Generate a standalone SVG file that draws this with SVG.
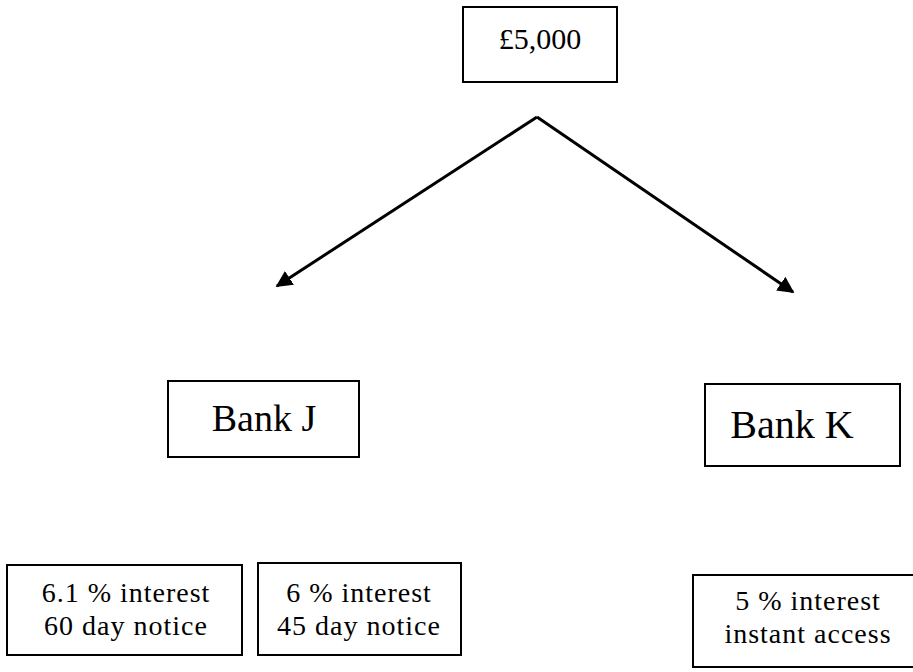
<svg xmlns="http://www.w3.org/2000/svg" width="913" height="672" viewBox="0 0 913 672">
  <style>
    .box { fill: #fff; stroke: #000; stroke-width: 2; }
    .label { font-family: "Liberation Serif", "Times New Roman", serif; fill: #000; text-anchor: middle; }
    .small { font-size: 28px; letter-spacing: 1px; }
    .edge { fill: none; stroke: #000; stroke-width: 3; stroke-linejoin: miter; }
  </style>
  <defs>
    <marker id="arrow" viewBox="0 0 10 10" refX="9" refY="5" markerWidth="5.5" markerHeight="5.5" orient="auto" markerUnits="strokeWidth">
      <path d="M0,0 L10,5 L0,10 z" fill="#000"/>
    </marker>
  </defs>

  <!-- connectors -->
  <g id="connectors">
    <line class="edge" x1="537" y1="117" x2="277" y2="286" marker-end="url(#arrow)"/>
    <line class="edge" x1="537" y1="117" x2="793" y2="292" marker-end="url(#arrow)"/>
  </g>

  <g id="root">
    <rect class="box" x="463" y="7" width="154" height="75"/>
    <text class="label" x="540" y="49" font-size="30">£5,000</text>
  </g>

  <g id="bank-j">
    <rect class="box" x="168" y="381" width="191" height="76"/>
    <text class="label" x="264" y="431" font-size="38">Bank J</text>
  </g>

  <g id="bank-k">
    <rect class="box" x="705" y="384" width="195" height="82"/>
    <text class="label" x="792" y="438" font-size="40">Bank K</text>
  </g>

  <g id="j-option-1">
    <rect class="box" x="7" y="565" width="235" height="90"/>
    <text class="label small" x="126" y="602">6.1 % interest</text>
    <text class="label small" x="126" y="635">60 day notice</text>
  </g>

  <g id="j-option-2">
    <rect class="box" x="258" y="563" width="203" height="92"/>
    <text class="label small" x="359" y="602">6 % interest</text>
    <text class="label small" x="359" y="635">45 day notice</text>
  </g>

  <g id="k-option">
    <rect class="box" x="693" y="575" width="225" height="92"/>
    <text class="label small" x="808" y="610">5 % interest</text>
    <text class="label small" x="808" y="643">instant access</text>
  </g>
</svg>
